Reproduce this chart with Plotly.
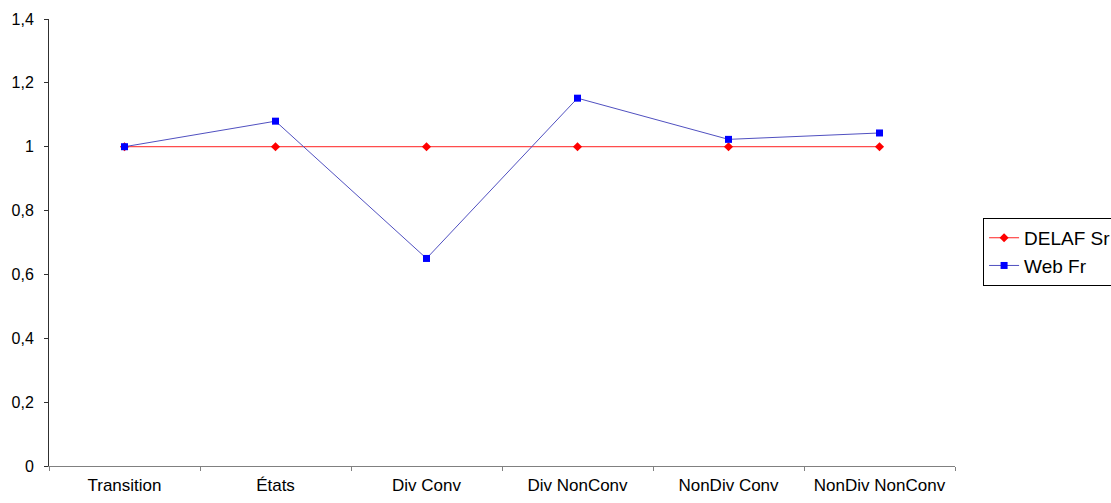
import plotly.graph_objects as go

categories = ["Transition", "États", "Div Conv", "Div NonConv", "NonDiv Conv", "NonDiv NonConv"]
delaf_sr = [1.0, 1.0, 1.0, 1.0, 1.0, 1.0]
web_fr = [1.0, 1.08, 0.65, 1.152, 1.023, 1.043]
y_ticks = [0, 0.2, 0.4, 0.6, 0.8, 1.0, 1.2, 1.4]

fig = go.Figure()
fig.add_trace(go.Scatter(
    x=categories, y=delaf_sr, name="DELAF Sr", mode="lines+markers",
    line=dict(color="#FF2020", width=1),
    marker=dict(symbol="diamond", color="#FF0000", size=7),
))
fig.add_trace(go.Scatter(
    x=categories, y=web_fr, name="Web Fr", mode="lines+markers",
    line=dict(color="#5050C0", width=1),
    marker=dict(symbol="square", color="#0000FF", size=7),
))

# figure is a bit wider than the window so the legend is cut at the right edge,
# as in the reference; page margin and scrollbars are removed below
fig.update_layout(
    width=1140, height=503,
    margin=dict(l=49, r=185, t=19, b=37),
    paper_bgcolor="white", plot_bgcolor="white",
    separators=",.",
    font=dict(family="Liberation Sans, Arial, sans-serif", size=16, color="black"),
    legend=dict(
        x=1.031, y=0.555, xanchor="left", yanchor="top",
        bordercolor="black", borderwidth=1, bgcolor="white",
        font=dict(size=19, color="black"),
        tracegroupgap=0, itemwidth=30,
    ),
    xaxis=dict(
        type="category", range=[-0.5, 5.5], automargin=False,
        showline=True, linecolor="#808080", linewidth=1,
        ticks="outside", tickson="boundaries", ticklen=4, tickcolor="#808080",
        showgrid=False, zeroline=False,
        tickfont=dict(size=17), ticklabelstandoff=4,
    ),
    yaxis=dict(
        range=[0, 1.4], tickvals=y_ticks, automargin=False,
        showline=True, linecolor="#303030", linewidth=1,
        ticks="outside", ticklen=4, tickcolor="#303030",
        showgrid=False, zeroline=False,
        tickfont=dict(size=16), ticklabelstandoff=7,
    ),
)

post = (
    "document.body.style.margin='0';"
    "document.body.style.overflow='hidden';"
    "document.documentElement.style.overflow='hidden';"
)
fig.write_html("out.html", post_script=post, config={"displayModeBar": False})
